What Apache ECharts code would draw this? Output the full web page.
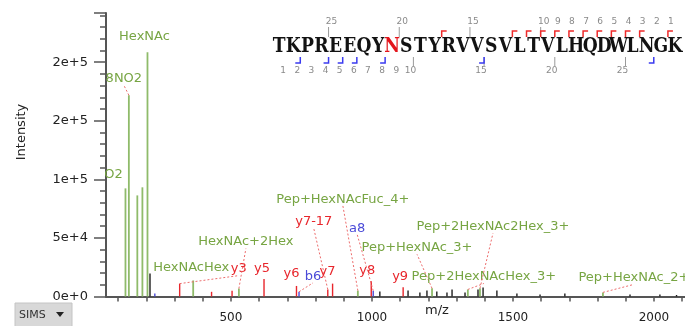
<!DOCTYPE html>
<html>
<head>
<meta charset="utf-8">
<script src="https://cdn.jsdelivr.net/npm/echarts@6/dist/echarts.min.js"></script>
<style>
  html, body { margin: 0; padding: 0; background: #fff; }
  #chart { width: 685px; height: 326px; }
</style>
</head>
<body>
<div id="chart"></div>
<script>
// Annotated MS/MS spectrum of the glycopeptide TKPREEQYNSTYRVVSVLTVLHQDWLNGK

// Peak list: m/z, intensity, ion kind and annotation text
const peakMz = [
  126.055, 138.055, 168.066, 186.076, 204.087, 213.0,
  230.15, 318.2, 366.14, 431.3, 504.0, 528.19,
  617.3, 732.4, 741.4, 843.4, 860.4, 950.0,
  997.5, 1004.5, 1028, 1110.6, 1128, 1170,
  1195, 1213, 1230, 1266, 1284, 1330,
  1340, 1376, 1383, 1394, 1443, 1514,
  1596, 1684, 1819, 1915, 2021, 2080
];
const peakIntensity = [
  92300, 171800, 86300, 93200, 208500, 19700,
  2500, 11000, 13700, 4000, 5000, 6800,
  15000, 9000, 4000, 6000, 11000, 5000,
  13000, 5000, 4300, 8000, 5100, 3400,
  5100, 7000, 4300, 3400, 6000, 3400,
  6000, 6000, 7000, 7700, 5100, 2600,
  1700, 2600, 3500, 1700, 1700, 1300
];
const peakKind = [
  'glycan', 'glycan', 'glycan', 'glycan', 'glycan', 'none',
  'b', 'y', 'glycan', 'y', 'y', 'glycan',
  'y', 'y', 'b', 'y', 'y', 'glycan',
  'y', 'b', 'none', 'y', 'none', 'none',
  'none', 'glycan', 'none', 'none', 'none', 'none',
  'glycan', 'none', 'glycan', 'none', 'none', 'none',
  'none', 'none', 'glycan', 'none', 'none', 'none'
];
const peakLabel = [
  'O2', '8NO2', '', '', 'HexNAc', '',
  '', 'y3', 'HexNAcHex', '', '', 'HexNAc+2Hex',
  'y5', 'y6', 'b6', 'y7-17', 'y7', 'Pep+HexNAcFuc_4+',
  'y8', 'a8', '', 'y9', '', '',
  '', 'Pep+HexNAc_3+', '', '', '', '',
  'Pep+2HexNAcHex_3+', '', 'Pep+2HexNAc2Hex_3+', '', '', '',
  '', '', 'Pep+HexNAc_2+', '', '', ''
];

// Axis ticks
const xTickLabels = [500, 1000, 1500, 2000];
const xMinorTicks = [100, 200, 300, 400, 500, 600, 700, 800, 900, 1000, 1100,
  1200, 1300, 1400, 1500, 1600, 1700, 1800, 1900, 2000, 2100];
const yTickValues = [0, 50000, 100000, 150000, 200000];
const yTickLabels = ['0e+0', '5e+4', '1e+5', '2e+5', '2e+5'];

// Peptide sequence and observed fragment coverage
const sequence = 'TKPREEQYNSTYRVVSVLTVLHQDWLNGK';
const glycoSite = 8;
const yIonsFound = [1, 3, 4, 5, 6, 7, 8, 9, 10, 11, 12, 17];
const bIonsFound = [2, 4, 5, 6, 8, 15, 27];
const ladderNumbers = [1, 2, 3, 4, 5, 6, 7, 8, 9, 10, 15, 20, 25];

// Label placement: pixel offset from the peak top to the label's bottom centre
const labelPlacement = {
  'O2':                 { dx: -12, dy: -7 },
  '8NO2':               { dx: -5,  dy: -10, leader: true },
  'HexNAc':             { dx: -3,  dy: -9 },
  'HexNAcHex':          { dx: -2,  dy: -6 },
  'HexNAc+2Hex':        { dx: 7,   dy: -40, leader: true },
  'y3':                 { dx: 59,  dy: -8,  leader: true },
  'y5':                 { dx: -2,  dy: -4 },
  'y6':                 { dx: -5,  dy: -6 },
  'b6':                 { dx: 14,  dy: -9,  leader: true },
  'y7':                 { dx: -5,  dy: -5 },
  'y7-17':              { dx: -14, dy: -61, leader: true },
  'a8':                 { dx: -16, dy: -56, leader: true },
  'y8':                 { dx: -4,  dy: -4 },
  'y9':                 { dx: -3,  dy: -4 },
  'Pep+HexNAcFuc_4+':   { dx: -15, dy: -85, leader: true },
  'Pep+HexNAc_3+':      { dx: -15, dy: -34, leader: true },
  'Pep+2HexNAcHex_3+':  { dx: 16,  dy: -6,  leader: true },
  'Pep+2HexNAc2Hex_3+': { dx: 13,  dy: -55, leader: true },
  'Pep+HexNAc_2+':      { dx: 31,  dy: -8,  leader: true }
};

const barColor = { glycan: '#8fbb6a', y: '#e8262c', b: '#4b4bd8', none: '#1e1e1e' };
const textColor = { glycan: '#77a543', y: '#e8262c', b: '#4b4bd8', none: '#1e1e1e' };
const labelFont = '13px "DejaVu Sans"';
const centred = { align: 'center', verticalAlign: 'middle', textAlign: 'center', textVerticalAlign: 'middle' };

const peakData = peakMz.map((mz, i) => [mz, peakIntensity[i], i]);
const labelData = peakData.filter(d => peakLabel[d[2]] !== '');

// Sequence ladder drawn above the spectrum
const seqLeft = 272, cell = 14.14, seqY = 47;
const bx = j => seqLeft + j * cell;
const ladder = [];
for (let i = 0; i < sequence.length; i++) {
  ladder.push({
    type: 'text', x: seqLeft + (i + 0.5) * cell, y: seqY, scaleX: 0.86,
    style: Object.assign({
      text: sequence[i], font: 'bold 20px "DejaVu Serif"',
      fill: i === glycoSite ? '#e3141b' : '#121212'
    }, centred)
  });
}
ladderNumbers.forEach(k => {
  ladder.push({ type: 'text', x: bx(sequence.length - k) + 3, y: 22,
    style: Object.assign({ text: String(k), font: '9px "DejaVu Sans"', fill: '#8a8a8a' }, centred) });
  ladder.push({ type: 'text', x: bx(k) - 3, y: 71,
    style: Object.assign({ text: String(k), font: '9px "DejaVu Sans"', fill: '#8a8a8a' }, centred) });
  if (k >= 10) {
    ladder.push({ type: 'line', shape: { x1: bx(sequence.length - k), y1: 27, x2: bx(sequence.length - k), y2: 37 },
      style: { stroke: '#9a9a9a', lineWidth: 1 } });
    ladder.push({ type: 'line', shape: { x1: bx(k), y1: 57, x2: bx(k), y2: 66 },
      style: { stroke: '#9a9a9a', lineWidth: 1 } });
  }
});
yIonsFound.forEach(k => {
  const x = bx(sequence.length - k);
  ladder.push({ type: 'polyline', shape: { points: [[x, 37], [x, 31], [x + 5, 31]] },
    style: { stroke: '#ee2a2a', lineWidth: 1.5, fill: null } });
});
bIonsFound.forEach(k => {
  const x = bx(k);
  ladder.push({ type: 'polyline', shape: { points: [[x, 57], [x, 63], [x - 5, 63]] },
    style: { stroke: '#3b3bf0', lineWidth: 1.5, fill: null } });
});

// Axis titles and the spectrum-type selector in the lower left corner
const extras = [
  { type: 'rect', shape: { x: 15, y: 303, width: 57, height: 26 },
    style: { fill: '#d8d8d8', stroke: '#c4c4c4', lineWidth: 1 } },
  { type: 'text', x: 19, y: 315,
    style: { text: 'SIMS', font: '11px "DejaVu Sans"', fill: '#333',
      align: 'left', verticalAlign: 'middle', textAlign: 'left', textVerticalAlign: 'middle' } },
  { type: 'polygon', shape: { points: [[56, 312], [64, 312], [60, 317]] }, style: { fill: '#222' } },
  { type: 'text', x: 22, y: 132, rotation: Math.PI / 2,
    style: Object.assign({ text: 'Intensity', font: '13px "DejaVu Sans"', fill: '#222' }, centred) },
  { type: 'text', x: 437, y: 311,
    style: Object.assign({ text: 'm/z', font: '13px "DejaVu Sans"', fill: '#222' }, centred) }
];

const chart = echarts.init(document.getElementById('chart'), null, { renderer: 'canvas' });
chart.setOption({
  animation: false,
  grid: { left: 106, right: 0, top: 13, bottom: 29.5 },
  xAxis: {
    type: 'value', min: 57, max: 2110,
    axisLine: { lineStyle: { color: '#555', width: 2 } },
    axisTick: { length: 5, lineStyle: { color: '#555', width: 1.5 }, customValues: xMinorTicks },
    axisLabel: { customValues: xTickLabels, margin: 15, fontFamily: 'DejaVu Sans', fontSize: 12, color: '#222',
      formatter: v => String(v) },
    splitLine: { show: false }
  },
  yAxis: {
    type: 'value', min: 0, max: 242000, interval: 50000,
    axisLine: { show: true, lineStyle: { color: '#555', width: 2 } },
    axisTick: { show: true, length: 12, lineStyle: { color: '#555', width: 1.5 } },
    minorTick: { show: true, splitNumber: 5, length: 6, lineStyle: { color: '#555', width: 1.5 } },
    axisLabel: {
      margin: 18, fontFamily: 'DejaVu Sans', fontSize: 13, color: '#222',
      formatter: v => { const i = yTickValues.indexOf(v); return i >= 0 ? yTickLabels[i] : ''; }
    },
    splitLine: { show: false }
  },
  graphic: { elements: ladder.concat(extras) },
  series: [
    {
      type: 'custom', name: 'peaks', data: peakData, encode: { x: 0, y: 1 }, z: 2,
      renderItem: (params, api) => {
        const kind = peakKind[api.value(2)];
        const base = api.coord([api.value(0), 0]);
        const top = api.coord([api.value(0), api.value(1)]);
        return { type: 'line', shape: { x1: base[0], y1: base[1], x2: top[0], y2: top[1] },
          style: { stroke: barColor[kind], lineWidth: kind === 'glycan' ? 1.8 : 1.4 } };
      }
    },
    {
      type: 'custom', name: 'annotations', data: labelData, encode: { x: 0, y: 1 }, z: 3,
      renderItem: (params, api) => {
        const idx = api.value(2);
        const text = peakLabel[idx];
        const kind = peakKind[idx];
        const place = labelPlacement[text] || { dx: 0, dy: -4 };
        const top = api.coord([api.value(0), api.value(1)]);
        const lx = top[0] + place.dx, ly = top[1] + place.dy;
        const children = [];
        if (place.leader) {
          children.push({ type: 'line', shape: { x1: top[0], y1: top[1], x2: lx, y2: ly },
            style: { stroke: '#ec6c6c', lineWidth: 1, lineDash: [2, 2] } });
        }
        children.push({ type: 'text', style: { text: text, x: lx, y: ly, font: labelFont,
          fill: textColor[kind], align: 'center', verticalAlign: 'bottom' } });
        return { type: 'group', children: children };
      }
    }
  ]
});
</script>
</body>
</html>
